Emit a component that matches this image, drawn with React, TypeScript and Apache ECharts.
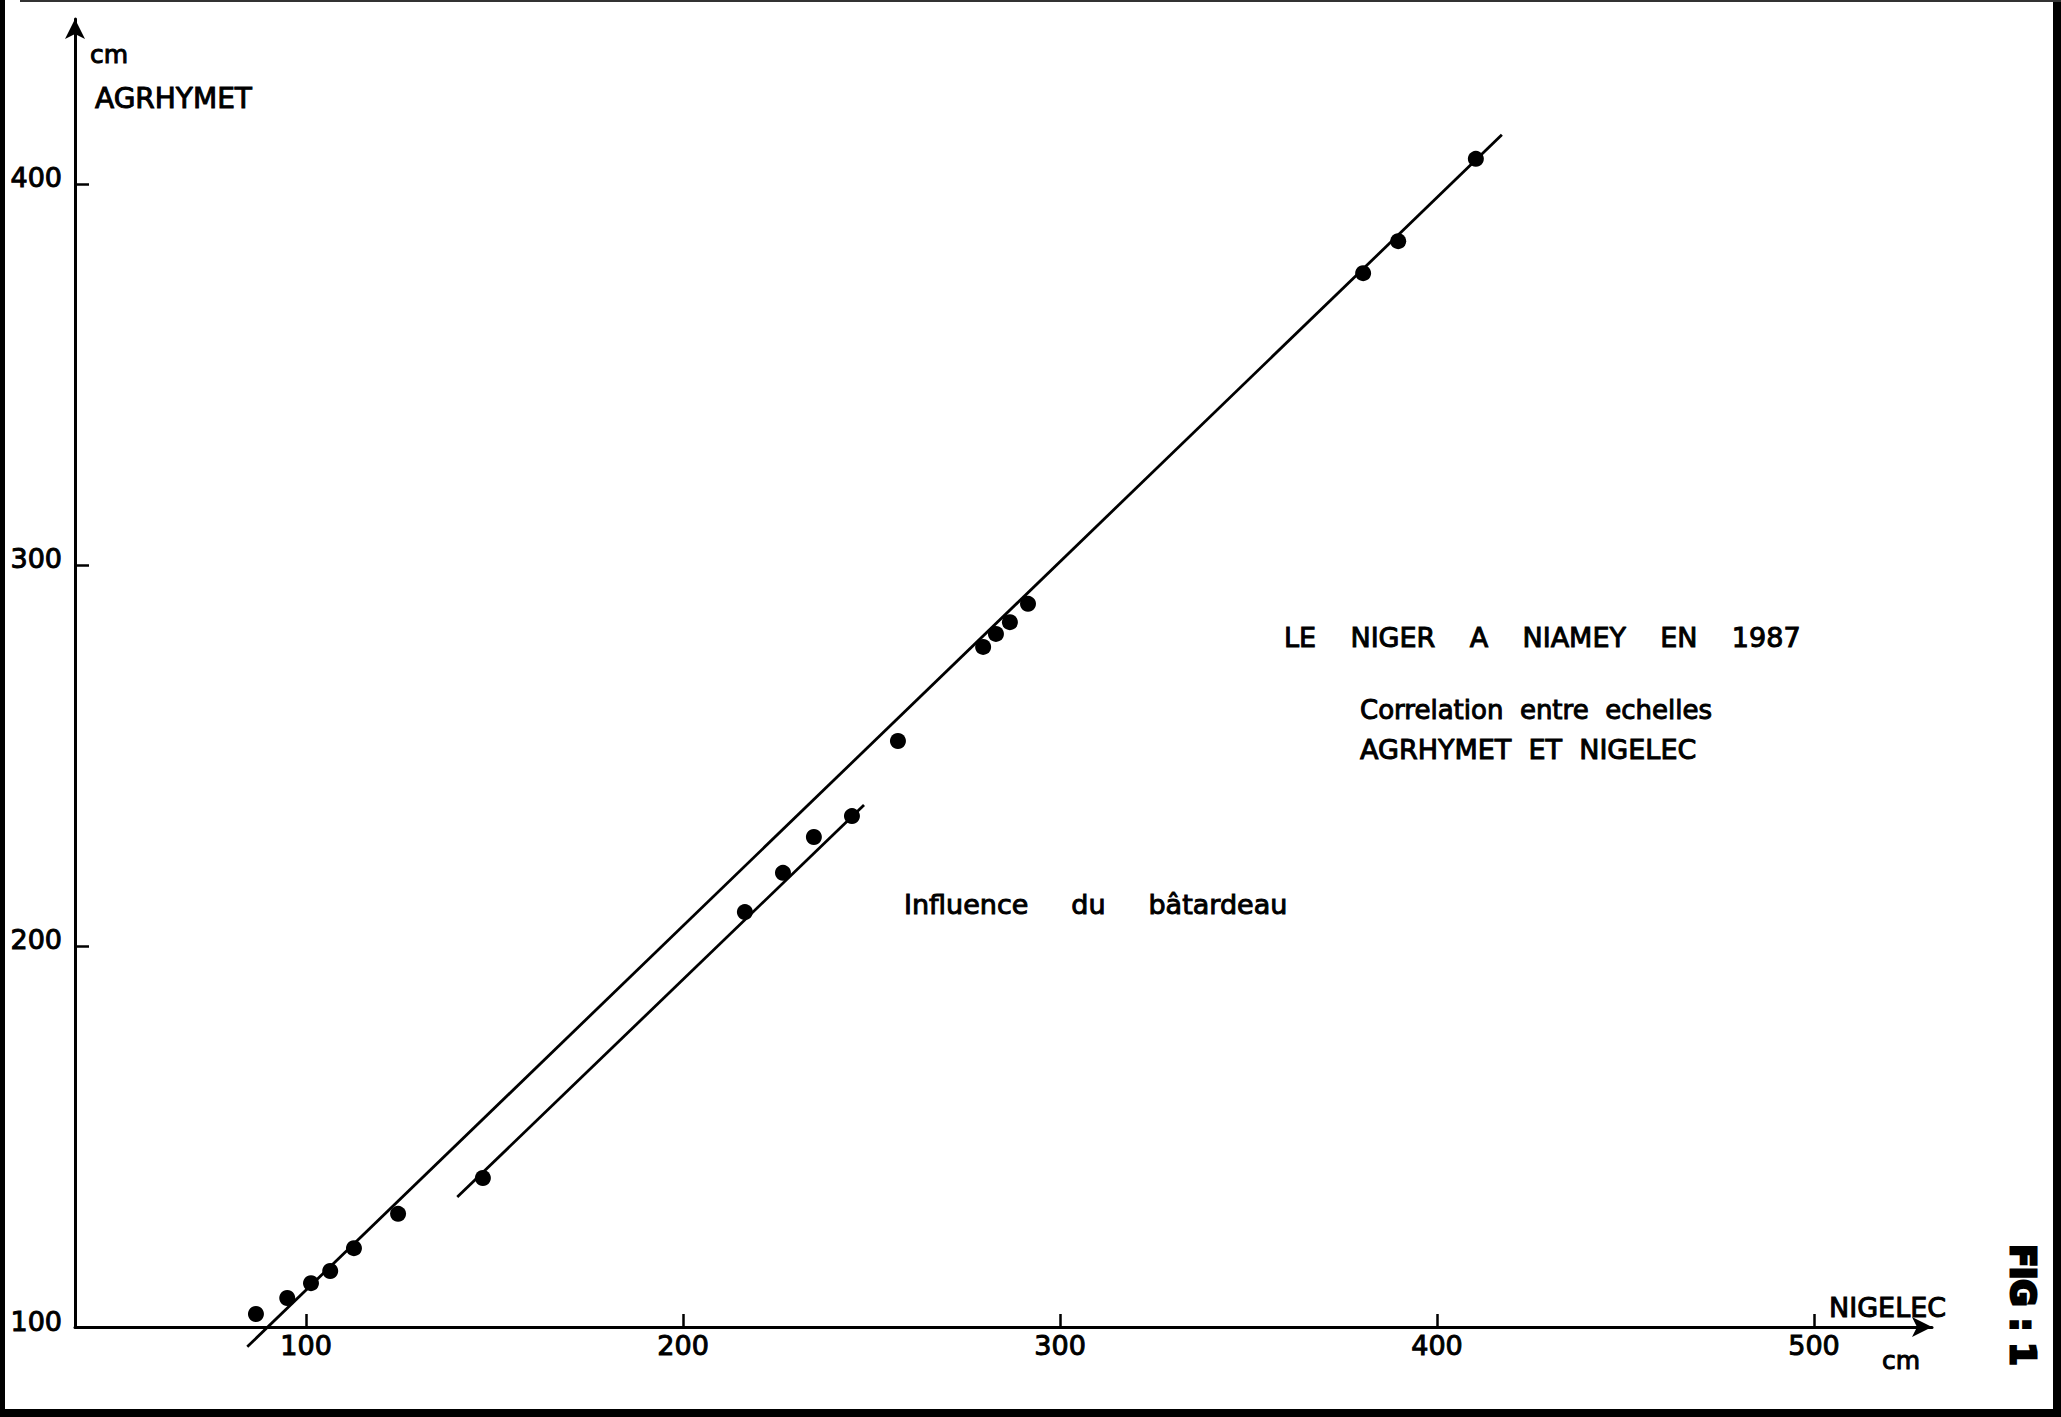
import React, { useEffect, useRef } from "react";
import * as echarts from "echarts";

// NIGELEC scale reading (cm) vs AGRHYMET scale reading (cm)
const nigelec = [86.7, 95.0, 101.3, 106.4, 112.7, 124.4, 146.9, 216.4, 226.5, 234.7, 244.8, 257.0, 279.6, 283.0, 286.7, 291.5, 380.4, 389.7, 410.3];
const agrhymet = [103.4, 107.6, 111.5, 114.7, 120.7, 129.7, 139.1, 208.9, 219.2, 228.6, 234.1, 253.8, 278.5, 281.9, 285.0, 289.8, 376.6, 385.0, 406.6];

// correlation line (general) and line under influence of the cofferdam
const mainLineX = [84.4, 417.2];
const mainLineY = [94.8, 412.9];
const cofferLineX = [140.1, 248.0];
const cofferLineY = [134.1, 237.0];

const xTicks = [100, 200, 300, 400, 500];
const yTicks = [100, 200, 300, 400];
const xRange = [38.7, 531.3];
const yRange = [100, 443.3];

const NB = "\u00A0";
const gap = (n: number) => NB.repeat(n);
const titleWords = ["LE", "NIGER", "A", "NIAMEY", "EN", "1987"];
const subtitle1Words = ["Correlation", "entre", "echelles"];
const subtitle2Words = ["AGRHYMET", "ET", "NIGELEC"];
const noteWords = ["Influence", "du", "bâtardeau"];
const figLabel = "FIG : 1";

const FONT = "'DejaVu Sans', sans-serif";

export default function App() {
  const ref = useRef<HTMLDivElement>(null);
  useEffect(() => {
    document.body.style.margin = "0";
    if (!ref.current) return;
    const chart = echarts.init(ref.current, undefined, { renderer: "svg" });
    const pairs = (xs: number[], ys: number[]) => xs.map((x, i) => [x, ys[i]]);
    const txt = (text: string, x: number, y: number, size: number, extra: any = {}) => ({
      type: "text",
      x,
      y,
      z: 10,
      rotation: extra.rotation || 0,
      style: {
        text,
        font: `${extra.weight || "normal"} ${size}px ${FONT}`,
        fill: "#000",
        stroke: "#000",
        lineWidth: extra.strokeW ?? 1,
        textAlign: extra.align || "left",
        textVerticalAlign: "middle",
      },
    });
    chart.setOption({
      animation: false,
      backgroundColor: "#fff",
      grid: { left: 75, right: 129, top: 19, bottom: 90, containLabel: false },
      xAxis: {
        type: "value",
        min: xRange[0],
        max: xRange[1],
        splitLine: { show: false },
        axisLine: {
          onZero: false,
          symbol: ["none", "arrow"],
          symbolSize: [15, 20],
          lineStyle: { color: "#000", width: 3 },
        },
        axisTick: {
          inside: true,
          length: 13,
          customValues: xTicks,
          lineStyle: { color: "#000", width: 2.5 },
        },
        axisLabel: {
          customValues: xTicks,
          margin: 5,
          color: "#000",
          fontSize: 27,
          fontFamily: FONT,
          textBorderColor: "#000",
          textBorderWidth: 1,
        },
      },
      yAxis: {
        type: "value",
        min: yRange[0],
        max: yRange[1],
        splitLine: { show: false },
        axisLine: {
          onZero: false,
          symbol: ["none", "arrow"],
          symbolSize: [15, 20],
          lineStyle: { color: "#000", width: 3 },
        },
        axisTick: {
          inside: true,
          length: 14,
          customValues: yTicks,
          lineStyle: { color: "#000", width: 2.5 },
        },
        axisLabel: {
          customValues: yTicks,
          margin: 13,
          color: "#000",
          fontSize: 27,
          fontFamily: FONT,
          verticalAlign: "bottom",
          lineHeight: 12,
          textBorderColor: "#000",
          textBorderWidth: 1,
        },
      },
      series: [
        {
          type: "line",
          data: pairs(mainLineX, mainLineY),
          showSymbol: false,
          clip: false,
          lineStyle: { color: "#000", width: 2.8 },
        },
        {
          type: "line",
          data: pairs(cofferLineX, cofferLineY),
          showSymbol: false,
          clip: false,
          lineStyle: { color: "#000", width: 2.8 },
        },
        {
          type: "scatter",
          data: pairs(nigelec, agrhymet),
          symbol: "circle",
          symbolSize: 16,
          clip: false,
          itemStyle: { color: "#000", opacity: 1 },
          z: 5,
        },
      ],
      graphic: [
        // scanned page frame
        { type: "rect", shape: { x: 0, y: 0, width: 5, height: 1417 }, style: { fill: "#000" } },
        { type: "rect", shape: { x: 0, y: 1409, width: 2061, height: 8 }, style: { fill: "#000" } },
        { type: "rect", shape: { x: 2053, y: 0, width: 8, height: 1417 }, style: { fill: "#000" } },
        { type: "rect", shape: { x: 20, y: 0, width: 2041, height: 2 }, style: { fill: "#333" } },
        txt("cm", 90, 54, 25),
        txt("AGRHYMET", 95, 98, 28),
        txt("NIGELEC", 1829, 1307, 27),
        txt("cm", 1882, 1360, 25),
        txt(titleWords.join(gap(4)), 1284, 637, 27),
        txt(subtitle1Words.join(gap(2)), 1360, 710, 26),
        txt(subtitle2Words.join(gap(2)), 1360, 749, 27),
        txt(noteWords.join(gap(5)), 904, 904, 27),
        txt(figLabel, 2022, 1305, 33, { weight: "bold", align: "center", rotation: -Math.PI / 2, strokeW: 3 }),
      ],
    });
    return () => chart.dispose();
  }, []);
  return <div ref={ref} style={{ width: 2061, height: 1417 }} />;
}
